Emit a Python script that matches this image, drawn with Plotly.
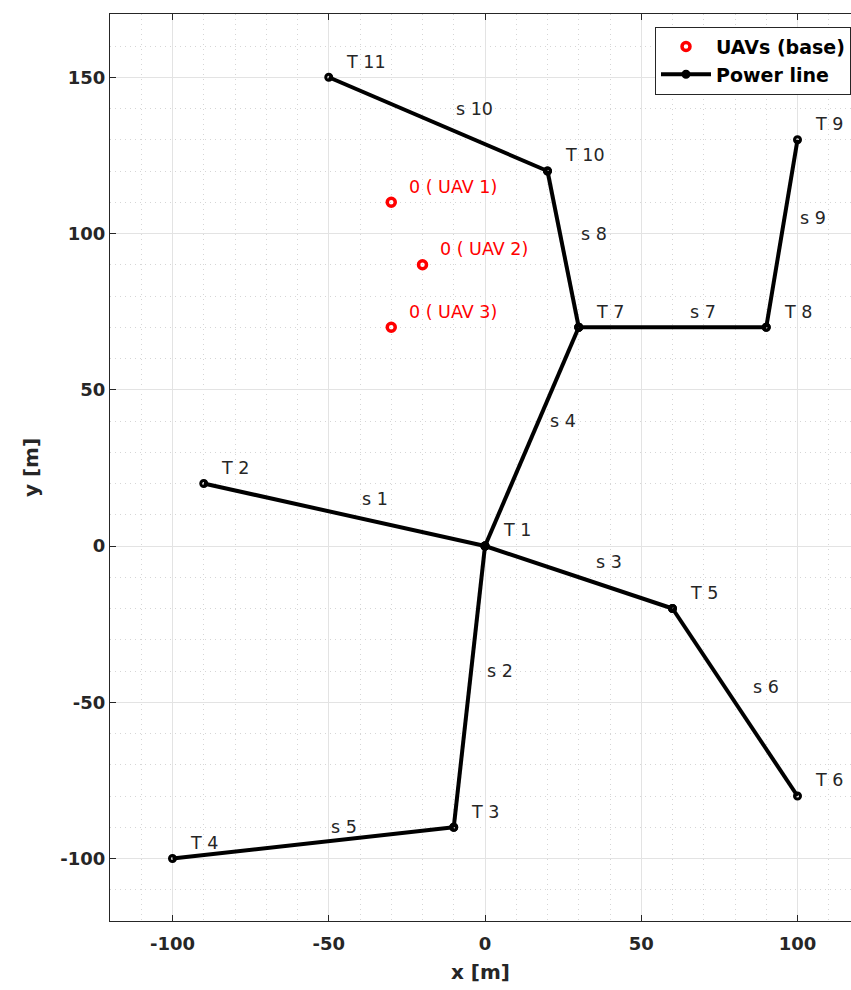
import plotly.graph_objects as go

# Tower positions [m]
tower_names = ["T 1", "T 2", "T 3", "T 4", "T 5", "T 6", "T 7", "T 8", "T 9", "T 10", "T 11"]
tower_x = [0, -90, -10, -100, 60, 100, 30, 90, 100, 20, -50]
tower_y = [0, 20, -90, -100, -20, -80, 70, 70, 130, 120, 150]

# Power line segments as (start tower index, end tower index)
segment_names = ["s 1", "s 2", "s 3", "s 4", "s 5", "s 6", "s 7", "s 8", "s 9", "s 10"]
segment_from = [0, 0, 0, 0, 2, 4, 6, 6, 7, 9]
segment_to = [1, 2, 4, 6, 3, 5, 7, 9, 8, 10]

# UAV base positions [m]
uav_labels = ["0 ( UAV 1)", "0 ( UAV 2)", "0 ( UAV 3)"]
uav_x = [-30, -20, -30]
uav_y = [110, 90, 70]

x_ticks = [-100, -50, 0, 50, 100]
x_tick_text = ["-100", "-50", "0", "50", "100"]
y_ticks = [-100, -50, 0, 50, 100, 150]
y_tick_text = ["-100", "-50", "0", "50", "100", "150"]

label_offset = 5
text_color = "#262626"

fig = go.Figure()

# UAV bases
fig.add_trace(go.Scatter(
    x=uav_x, y=uav_y, mode="markers", name="UAVs (base)",
    marker=dict(symbol="circle-open", size=8, color="#ff0000", line=dict(width=3.5, color="#ff0000")),
))

# Power line built from the segment list
line_x, line_y = [], []
for a, b in zip(segment_from, segment_to):
    line_x += [tower_x[a], tower_x[b], None]
    line_y += [tower_y[a], tower_y[b], None]

fig.add_trace(go.Scatter(
    x=line_x, y=line_y, mode="lines+markers", name="Power line",
    line=dict(color="black", width=4),
    marker=dict(symbol="circle-open", size=6, color="black", line=dict(width=3, color="black")),
))

label_size = 17.5
annotations = []
for name, x, y in zip(tower_names, tower_x, tower_y):
    annotations.append(dict(x=x + label_offset, y=y + label_offset, text=name,
                            xanchor="left", yanchor="middle", showarrow=False,
                            font=dict(size=label_size, color=text_color)))
for name, a, b in zip(segment_names, segment_from, segment_to):
    mx = (tower_x[a] + tower_x[b]) / 2
    my = (tower_y[a] + tower_y[b]) / 2
    annotations.append(dict(x=mx + label_offset, y=my + label_offset, text=name,
                            xanchor="left", yanchor="middle", showarrow=False,
                            font=dict(size=label_size, color=text_color)))
for name, x, y in zip(uav_labels, uav_x, uav_y):
    annotations.append(dict(x=x + label_offset, y=y + label_offset, text=name,
                            xanchor="left", yanchor="middle", showarrow=False,
                            font=dict(size=label_size, color="#ff0000")))

axis_common = dict(
    showline=True, linecolor=text_color, linewidth=1,
    ticks="inside", ticklen=6, tickcolor=text_color,
    showgrid=True, gridcolor="#e3e3e3", gridwidth=1,
    zeroline=False,
    tickfont=dict(size=18, color=text_color, family="DejaVu Sans", weight="bold"),
    title_font=dict(size=20, color=text_color, family="DejaVu Sans", weight="bold"),
    minor=dict(dtick=10, showgrid=True, gridcolor="#d6d6d6", griddash="1px,4px", gridwidth=1, ticks=""),
)

fig.update_layout(
    width=851, height=990,
    margin=dict(l=110, r=0, t=14, b=69),
    paper_bgcolor="white", plot_bgcolor="white",
    font=dict(family="DejaVu Sans", color=text_color),
    xaxis=dict(range=[-120, 117.12], tickvals=x_ticks, ticktext=x_tick_text, mirror="ticks",
               ticklabelstandoff=6,
               title=dict(text="x [m]", standoff=12), **axis_common),
    yaxis=dict(range=[-120, 170.24], tickvals=y_ticks, ticktext=y_tick_text, mirror=False,
               title=dict(text="y [m]", standoff=16), **axis_common),
    legend=dict(x=1, xanchor="right", y=0.986, yanchor="top",
                bgcolor="white", bordercolor=text_color, borderwidth=1,
                font=dict(size=19, color="black", family="DejaVu Sans", weight="bold"),
                tracegroupgap=0, itemsizing="trace", itemwidth=50),
    annotations=annotations,
    showlegend=True,
)

fig.write_html("out.html")
